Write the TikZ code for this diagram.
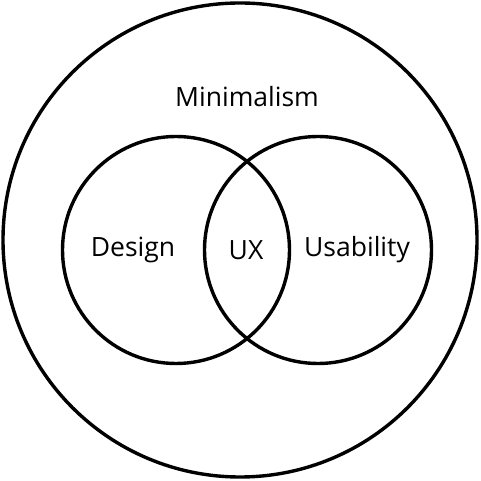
\documentclass[tikz,border=0pt]{standalone}
\usepackage{fontspec}
\setmainfont{Open Sans}
\begin{document}
\begin{tikzpicture}[x=1pt,y=1pt,
  ring/.style={circle,draw=black,line width=3.4pt,inner sep=0pt},
  lbl/.style={font=\fontsize{26.5}{30}\selectfont,inner sep=0pt}]
\useasboundingbox (0,0) rectangle (480,481);
\node[ring,minimum size=474pt] (outer) at (240,241) {};
\node[ring,minimum size=227pt] (left) at (176,231) {};
\node[ring,minimum size=227pt] (right) at (318,231) {};
\node[lbl] (min) at (247,384) {Minimalism};
\node[lbl] (design) at (133,231) {Design};
\node[lbl] (ux) at (246,231) {UX};
\node[lbl] (usab) at (357,231) {Usability};
\end{tikzpicture}
\end{document}
